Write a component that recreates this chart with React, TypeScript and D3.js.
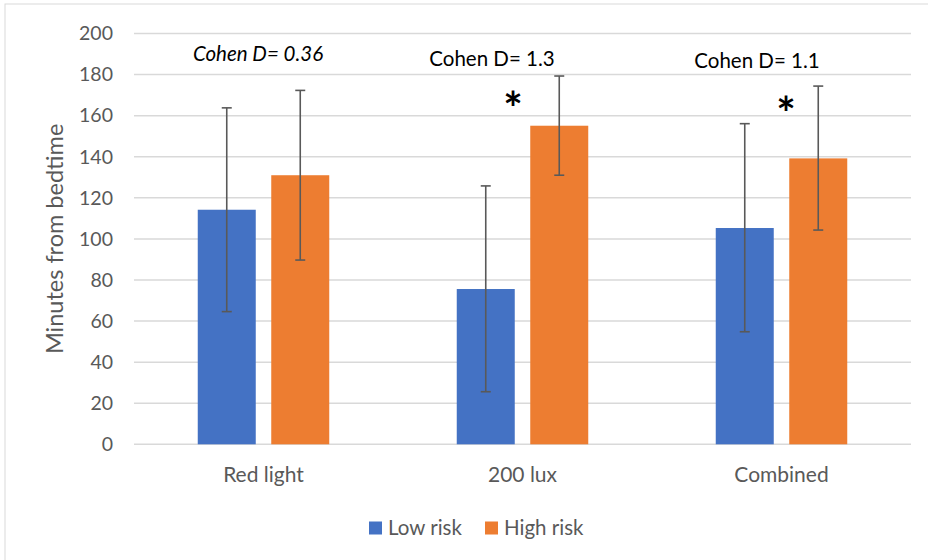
import React from "react";
import * as d3 from "d3";

const categories = ["Red light", "200 lux", "Combined"];
const seriesNames = ["Low risk", "High risk"];
const seriesColors = ["#4472C4", "#ED7D31"];
const lowRisk = [114.2, 75.6, 105.3];
const highRisk = [131, 155.1, 139.2];
const lowErrLo = [64.6, 25.6, 54.8];
const lowErrHi = [163.8, 125.8, 156.1];
const highErrLo = [89.7, 131, 104.3];
const highErrHi = [172.3, 179.3, 174.4];
const yTicks = [0, 20, 40, 60, 80, 100, 120, 140, 160, 180, 200];
const effectLabels = ["Cohen D= 0.36", "Cohen D= 1.3", "Cohen D= 1.1"];
const effectItalic = [true, false, false];
const effectValues = [190, 187.5, 186.5];
const starCategories = ["200 lux", "Combined"];
const starValues = [168.5, 166];
const starOffsets = [-9.5, 4.5];

const W = 928;
const H = 560;
const FONT = "Lato, 'Open Sans', sans-serif";

export default function App() {
  const left = 134;
  const right = 911;
  const top = 33.5;
  const bottom = 444.3;
  const x = d3.scaleBand<string>().domain(categories).range([left, right]).paddingInner(0).paddingOuter(0);
  const y = d3.scaleLinear().domain([0, 200]).range([bottom, top]);
  const barW = 58;
  const gap = 15.5;
  const series = [
    { vals: lowRisk, lo: lowErrLo, hi: lowErrHi },
    { vals: highRisk, lo: highErrLo, hi: highErrHi },
  ];
  const barX = (ci: number, si: number) => {
    const c = (x(categories[ci]) as number) + x.bandwidth() / 2;
    return si === 0 ? c - gap / 2 - barW : c + gap / 2;
  };
  return (
    <svg width={W} height={H} style={{ position: "absolute", left: 0, top: 0, background: "#fff" }} fontFamily={FONT}>
      <rect x={5} y={4} width={W + 10} height={H + 10} fill="#fff" stroke="#d9d9d9" strokeWidth={1} />
      {yTicks.map((t) => (
        <g key={t}>
          <line x1={left} x2={right} y1={y(t)} y2={y(t)} stroke="#d9d9d9" strokeWidth={1.5} />
          <text x={113} y={y(t)} dy="0.35em" textAnchor="end" fontSize={19.5} fill="#595959">
            {t}
          </text>
        </g>
      ))}
      <text
        transform={`translate(55,${(top + bottom) / 2}) rotate(-90)`}
        textAnchor="middle"
        dy="0.35em"
        fontSize={23.5}
        fill="#595959"
      >
        Minutes from bedtime
      </text>
      {series.map((s, si) =>
        categories.map((c, ci) => (
          <rect
            key={`b${si}-${ci}`}
            x={barX(ci, si)}
            y={y(s.vals[ci])}
            width={barW}
            height={y(0) - y(s.vals[ci])}
            fill={seriesColors[si]}
          />
        ))
      )}
      {series.map((s, si) =>
        categories.map((c, ci) => {
          const cx = barX(ci, si) + barW / 2;
          return (
            <g key={`e${si}-${ci}`} stroke="#595959" strokeWidth={1.6}>
              <line x1={cx} x2={cx} y1={y(s.lo[ci])} y2={y(s.hi[ci])} />
              <line x1={cx - 5} x2={cx + 5} y1={y(s.lo[ci])} y2={y(s.lo[ci])} />
              <line x1={cx - 5} x2={cx + 5} y1={y(s.hi[ci])} y2={y(s.hi[ci])} />
            </g>
          );
        })
      )}
      {categories.map((c) => (
        <text
          key={c}
          x={(x(c) as number) + x.bandwidth() / 2}
          y={475}
          dy="0.35em"
          textAnchor="middle"
          fontSize={21}
          fill="#595959"
        >
          {c}
        </text>
      ))}
      {effectLabels.map((l, i) => (
        <text
          key={l}
          x={(x(categories[i]) as number) + x.bandwidth() / 2 + [-5.5, -30.5, -24.5][i]}
          y={y(effectValues[i])}
          dy="0.35em"
          textAnchor="middle"
          fontSize={20.5}
          fontStyle={effectItalic[i] ? "italic" : "normal"}
          fill="#000"
        >
          {l}
        </text>
      ))}
      {starCategories.map((c, i) => (
        <text
          key={c}
          x={(x(c) as number) + x.bandwidth() / 2 + starOffsets[i]}
          y={y(starValues[i])}
          dy="0.59em"
          textAnchor="middle"
          fontSize={46}
          fontWeight="bold"
          fill="#000"
        >
          *
        </text>
      ))}
      {seriesNames.map((n, i) => {
        const lx = [369, 485][i];
        return (
          <g key={n}>
            <rect x={lx} y={521.5} width={13} height={13} fill={seriesColors[i]} />
            <text x={lx + 19} y={528} dy="0.35em" fontSize={20.5} fill="#595959">
              {n}
            </text>
          </g>
        );
      })}
    </svg>
  );
}
